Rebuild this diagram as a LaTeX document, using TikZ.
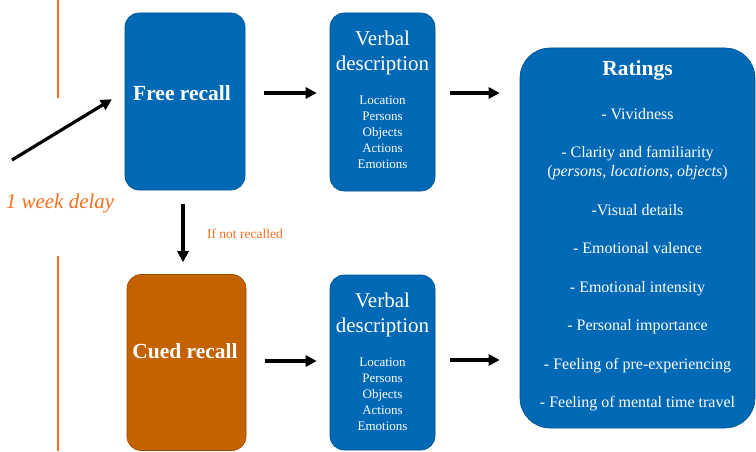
\documentclass[tikz,border=0pt]{standalone}
\usepackage{fontspec}
\setmainfont{Liberation Serif}
\usetikzlibrary{positioning,calc,arrows.meta}
\definecolor{boxblue}{RGB}{0,105,181}
\definecolor{cuedbrown}{RGB}{197,98,0}
\definecolor{delayorange}{RGB}{250,110,30}

\begin{document}
\begin{tikzpicture}[x=1pt,y=1pt,
		box/.style={rectangle, rounded corners=14pt, fill=boxblue, draw=boxblue!75!black, line width=0.6pt, inner sep=0pt},
		head/.style={text=white, font=\fontsize{21.5}{25}\selectfont\bfseries},
		vtitle/.style={text=white, align=center, inner sep=0pt, font=\fontsize{21}{25}\selectfont},
		vlist/.style={text=white, align=center, inner sep=0pt, font=\fontsize{13}{16}\selectfont},
		rlist/.style={text=white, align=center, inner sep=0pt, font=\fontsize{16}{19}\selectfont},
		arr/.style={-{Triangle[length=11pt,width=11pt]}, line width=3.2pt},
		delay/.style={delayorange, line width=2.8pt}]
	\useasboundingbox (0,0) rectangle (756,451);
		% recall boxes
		\node[box, minimum width=120pt, minimum height=177pt] (free) at (185,349.5) {};
		\node[box, fill=cuedbrown, draw=cuedbrown!75!black, minimum width=119pt, minimum height=176pt] (cued) at (186.5,88.5) {};
		\node[head] (freetxt) at (182,358) {Free recall};
		\node[head] (cuedtxt) at (185,100) {Cued recall};
		% verbal description boxes
		\node[box, minimum width=105pt, minimum height=178pt] (verb1) at (382.5,349) {};
		\node[box, minimum width=105pt, minimum height=175pt] (verb2) at (382.5,88.5) {};
		\node[vtitle, anchor=north] (vt1) at ($(verb1.north)+(0,-18.5)$) {Verbal\\description};
		\node[vlist, below=20pt of vt1] (vl1) {Location\\Persons\\Objects\\Actions\\Emotions};
		\node[vtitle, anchor=north] (vt2) at ($(verb2.north)+(0,-18.5)$) {Verbal\\description};
		\node[vlist, below=20pt of vt2] (vl2) {Location\\Persons\\Objects\\Actions\\Emotions};
		% ratings
		\node[box, rounded corners=30pt, minimum width=235pt, minimum height=380pt] (rate) at (637.5,213) {};
		\node[head] (ratetxt) at (637.5,381) {Ratings};
		\node[rlist, anchor=north] (items) at (637.5,343) {- Vividness\\[19.5pt]
			- Clarity and familiarity\\(\textit{persons}, \textit{locations}, \textit{objects})\\[19.5pt]
			-Visual details\\[19.5pt]
			- Emotional valence\\[19.5pt]
			- Emotional intensity\\[19.5pt]
			- Personal importance\\[19.5pt]
			- Feeling of pre-experiencing\\[19.5pt]
			- Feeling of mental time travel};
		% delay
		\draw[delay] (58,451) -- (58,353);
		\draw[delay] (58,195) -- (58,0);
		\node[text=delayorange, font=\fontsize{21}{25}\selectfont\itshape] (delaytxt) at (60,248) {1 week delay};
		\node[text=delayorange, font=\fontsize{13.5}{16}\selectfont, anchor=west] (ifnot) at (203.5,217) {If not recalled};
		\coordinate (start) at (12,291);
		% arrows
		\draw[arr, shorten >=15pt] (start) -- ($(free.west)+(0,10)$);
		\draw[arr, shorten <=14pt, shorten >=12pt] ([xshift=-2pt]free.south) -- ([xshift=-3.5pt]cued.north);
		\foreach \from/\to/\dy in {free/verb1/8.5, cued/verb2/1.5}
			\draw[arr, shorten <=19pt, shorten >=13pt] ($(\from.east)+(0,\dy)$) -- ($(\from.east -| \to.west)+(0,\dy)$);
		\foreach \from/\dy in {verb1/9, verb2/2.5}
			\draw[arr, shorten <=15pt, shorten >=20pt] ($(\from.east)+(0,\dy)$) -- ($(\from.east -| rate.west)+(0,\dy)$);
	\end{tikzpicture}
\end{document}
